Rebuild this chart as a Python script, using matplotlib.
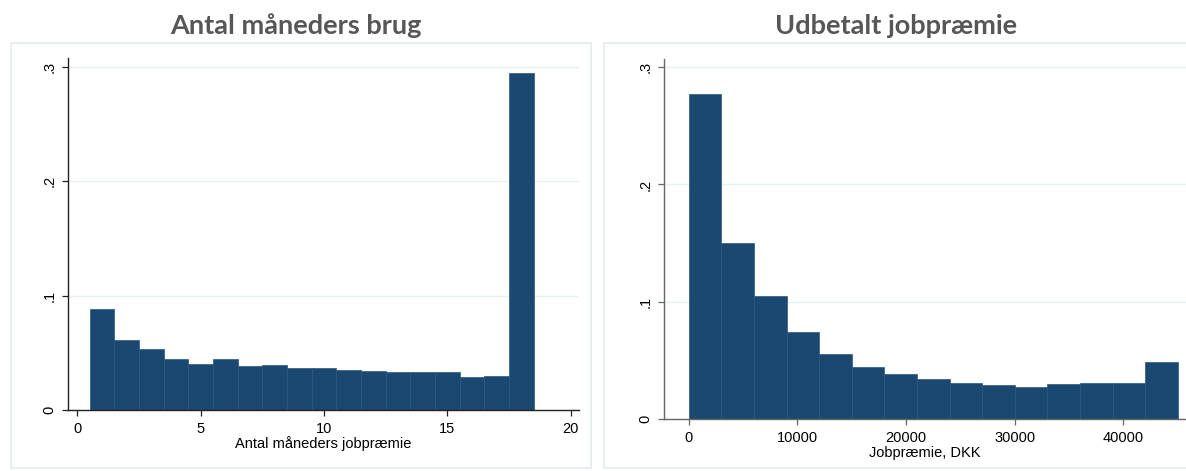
import matplotlib
matplotlib.use("Agg")
import matplotlib.pyplot as plt
from matplotlib.patches import Rectangle

# ---- data ----
months_edges_start = 0.5
months_bin_width = 1.0
months_density = [0.088, 0.0615, 0.053, 0.0446, 0.040, 0.0443, 0.0387, 0.0393, 0.037,
                  0.0364, 0.035, 0.0344, 0.0332, 0.0329, 0.0329, 0.0288, 0.0297, 0.294]

dkk_edges_start = 0
dkk_bin_width = 3000
dkk_density = [0.277, 0.1498, 0.1046, 0.0745, 0.0552, 0.0441, 0.0381, 0.0338, 0.0307,
               0.0287, 0.0276, 0.0301, 0.0304, 0.031, 0.0489]

titles = ["Antal måneders brug", "Udbetalt jobpræmie"]
xlabels = ["Antal måneders jobpræmie", "Jobpræmie, DKK"]
left_xticks = [0, 5, 10, 15, 20]
right_xticks = [0, 10000, 20000, 30000, 40000]
yticks = [0, 0.1, 0.2, 0.3]
ytick_labels = ["0", ".1", ".2", ".3"]

# ---- figure ----
W, H = 1186, 471
fig = plt.figure(figsize=(W / 100, H / 100), dpi=100)
fig.patch.set_facecolor("white")

BAR = "#1b4870"
EDGE = "#2a5780"
GRID = "#e6eff1"
FRAME = "#e3ebee"
TITLE_C = "#575757"
TICKFONT = "Liberation Sans"


def px_axes(l, r, t, b):
    return fig.add_axes([l / W, (H - b) / H, (r - l) / W, (b - t) / H])


def frame(x0, x1, y0, y1):
    fig.add_artist(Rectangle((x0 / W, (H - y1) / H), (x1 - x0) / W, (y1 - y0) / H,
                             transform=fig.transFigure, fill=False, edgecolor=FRAME,
                             linewidth=1.2, zorder=0))


frame(10.7, 591, 43, 468)
frame(604, 1200, 43, 468)


def style(ax, axis_color, xticks, xlabel, xlab_pad):
    for s in ["top", "right"]:
        ax.spines[s].set_visible(False)
    for s in ["left", "bottom"]:
        ax.spines[s].set_color(axis_color)
        ax.spines[s].set_linewidth(1.0)
    ax.set_yticks(yticks)
    ax.set_yticklabels(ytick_labels)
    ax.set_xticks(xticks)
    ax.set_xticklabels([str(v) for v in xticks])
    ax.tick_params(axis="both", length=4.3, width=0.9, color=axis_color, pad=4,
                   labelsize=10.5, labelcolor="black")
    for lab in ax.get_yticklabels() + ax.get_xticklabels():
        lab.set_fontfamily(TICKFONT)
    for lab in ax.get_yticklabels():
        lab.set_rotation(90)
        lab.set_va("center")
        lab.set_ha("right")
    ax.set_xlabel(xlabel, fontsize=10.5, fontfamily=TICKFONT, labelpad=xlab_pad)
    ax.yaxis.grid(True, color=GRID, linewidth=1.0)
    ax.set_axisbelow(True)
    ax.set_facecolor("none")


# left panel
axL = px_axes(68, 579, 58, 410)
left_positions = [months_edges_start + i * months_bin_width for i in range(len(months_density))]
axL.bar(left_positions, months_density, width=months_bin_width, align="edge",
        color=BAR, edgecolor=EDGE, linewidth=0.5, zorder=2)
axL.set_xlim(-0.377, 20.34)
axL.set_ylim(0, 0.3075)
style(axL, "#222222", left_xticks, xlabels[0], 0)

# right panel
axR = px_axes(664, 1186, 59, 419)
right_positions = [dkk_edges_start + i * dkk_bin_width for i in range(len(dkk_density))]
axR.bar(right_positions, dkk_density, width=dkk_bin_width, align="edge",
        color=BAR, edgecolor=EDGE, linewidth=0.5, zorder=2)
axR.set_xlim(-2272, 45750)
axR.set_ylim(0, 0.307)
style(axR, "#666666", right_xticks, xlabels[1], 1)

# titles
fig.text(296 / W, 1 - 26 / H, titles[0], ha="center", va="center", fontsize=19.5,
         fontweight="bold", color=TITLE_C, fontfamily="Lato")
fig.text(896 / W, 1 - 26 / H, titles[1], ha="center", va="center", fontsize=19.5,
         fontweight="bold", color=TITLE_C, fontfamily="Lato")

fig.savefig("out.png", dpi=100, facecolor="white")
